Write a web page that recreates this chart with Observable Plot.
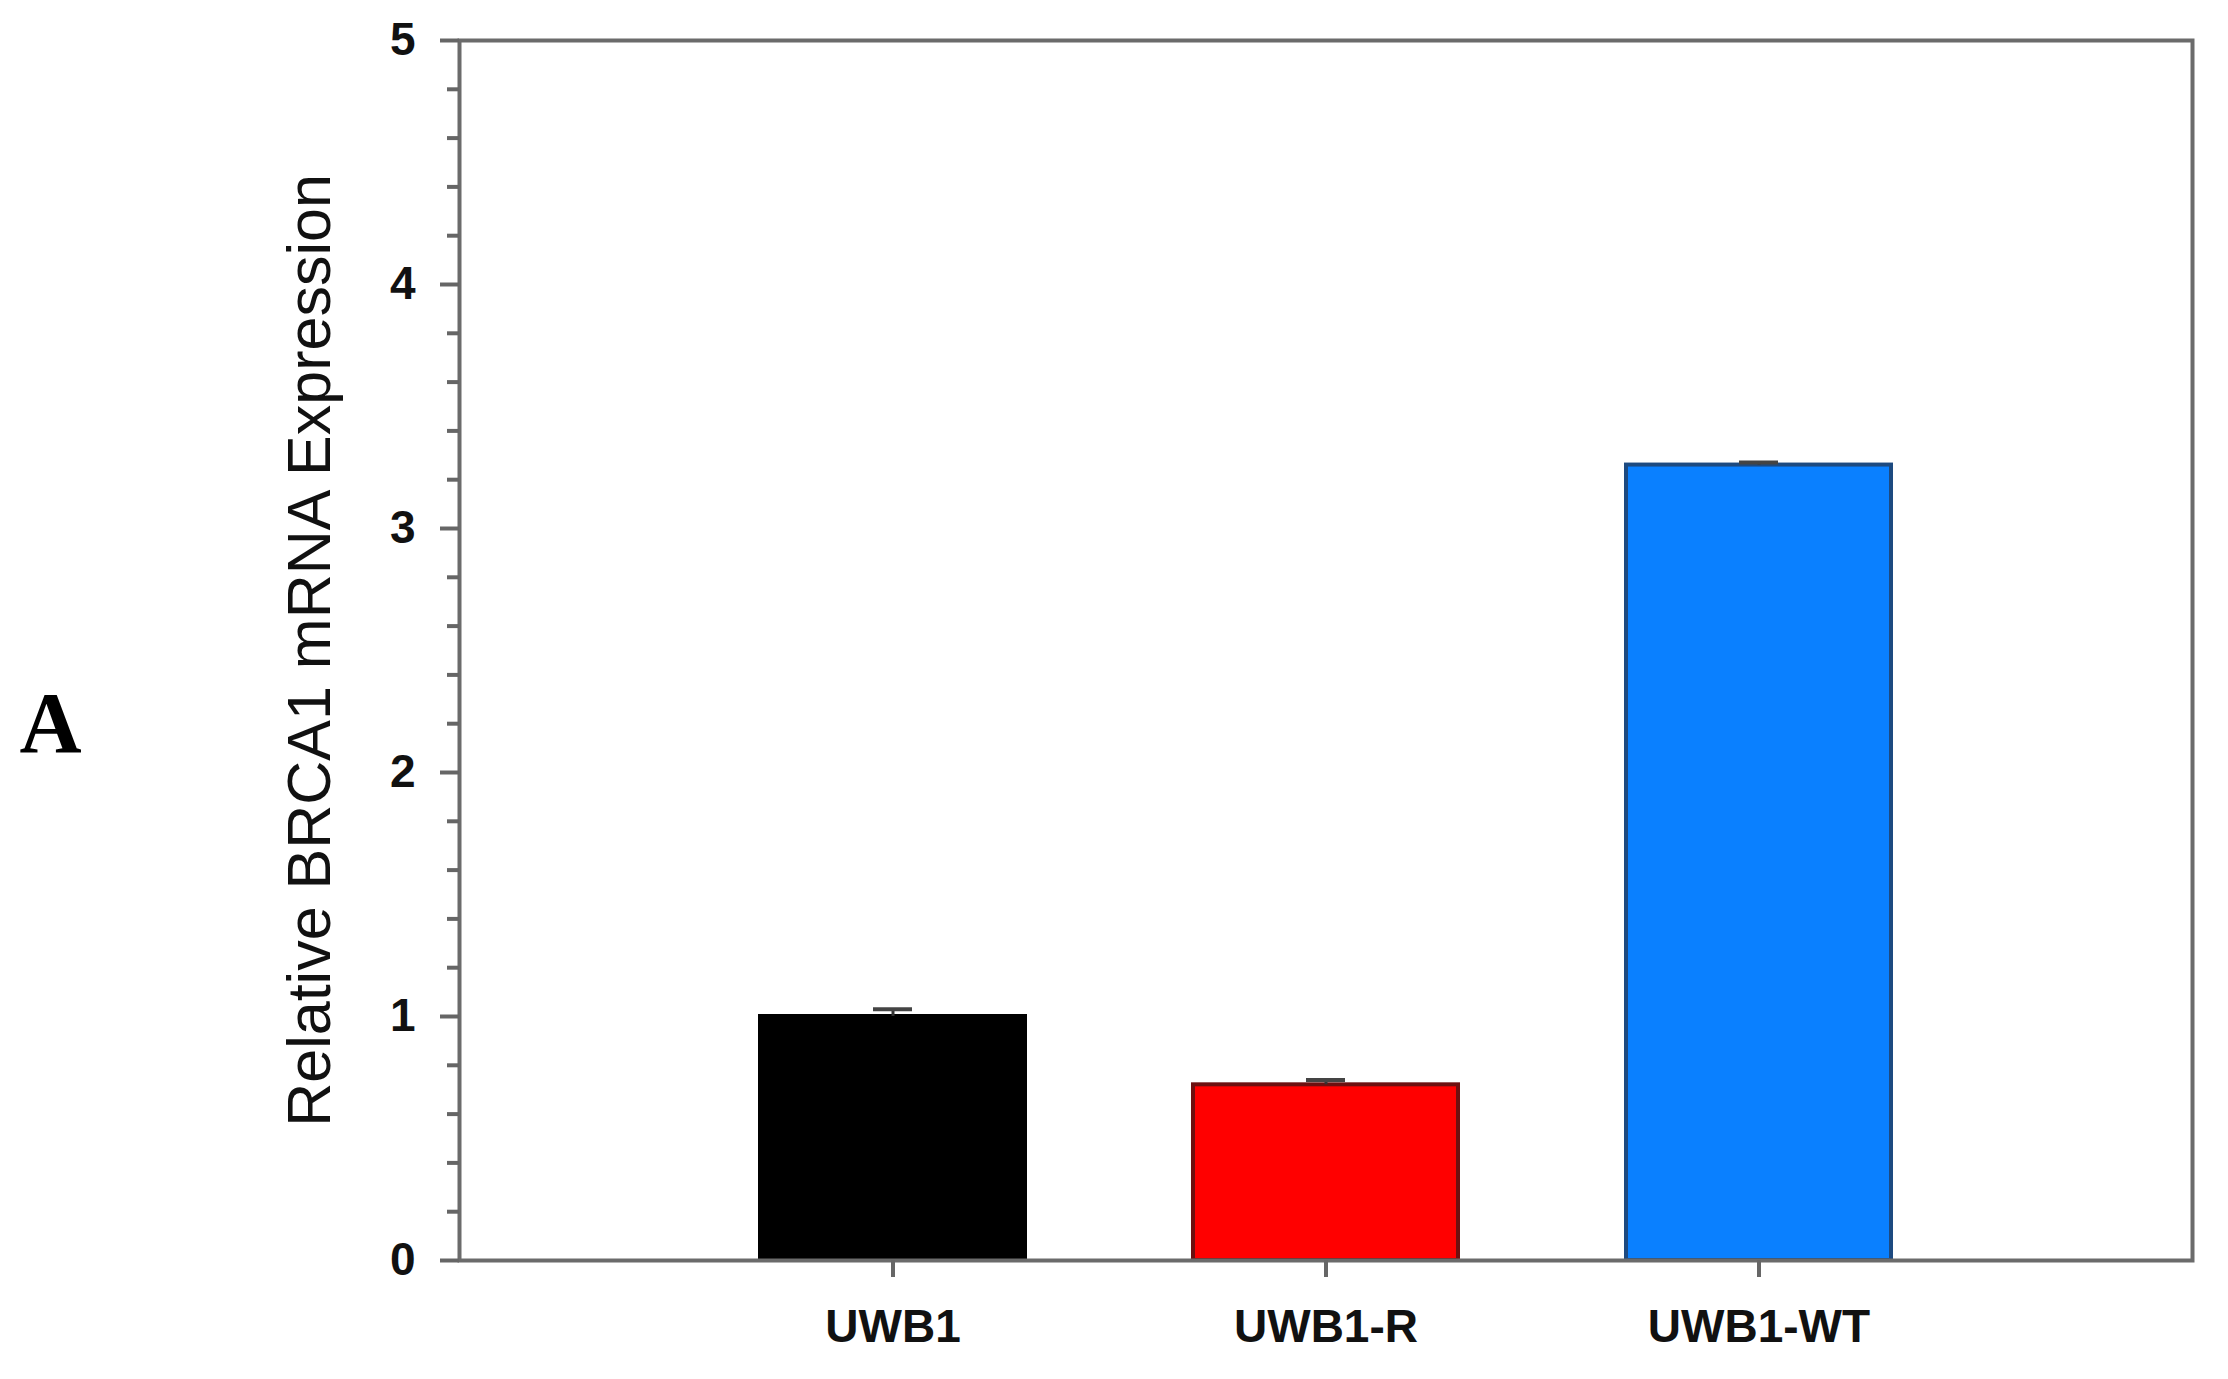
<!DOCTYPE html>
<html>
<head>
<meta charset="utf-8">
<script src="https://cdn.jsdelivr.net/npm/d3@7"></script>
<script src="https://cdn.jsdelivr.net/npm/@observablehq/plot@0.6"></script>
<style>
  html, body { margin: 0; padding: 0; background: #fff; }
  #chart { width: 2228px; height: 1379px; }
</style>
</head>
<body>
<div id="chart"></div>
<script>
// ---- data ----
const categories = ["UWB1", "UWB1-R", "UWB1-WT"];
const values = [1.0, 0.72, 3.26];
const errors = [0.03, 0.02, 0.01];
const yTicks = [0, 1, 2, 3, 4, 5];
const yMinorTicks = [0.2, 0.4, 0.6, 0.8, 1.2, 1.4, 1.6, 1.8, 2.2, 2.4, 2.6, 2.8,
                     3.2, 3.4, 3.6, 3.8, 4.2, 4.4, 4.6, 4.8];
const yLabel = "Relative BRCA1 mRNA Expression";
const panelLabel = "A";

// ---- styles (kept apart from data) ----
const fillColors = {"UWB1": "#000000", "UWB1-R": "#ff0000", "UWB1-WT": "#0a80ff"};
const strokeColors = {"UWB1": "#000000", "UWB1-R": "#6e1010", "UWB1-WT": "#1d4a80"};

const rows = categories.map((c, i) => ({cat: c, value: values[i], err: errors[i]}));

const chart = Plot.plot({
  width: 2228,
  height: 1379,
  marginLeft: 459,
  marginRight: 36,
  marginTop: 40,
  marginBottom: 119,
  style: {fontFamily: "'Liberation Sans', Arial, sans-serif", background: "#fff"},
  x: {type: "band", domain: categories, paddingInner: 0.388, paddingOuter: 0.694, label: null},
  y: {domain: [0, 5], label: null},
  color: {type: "identity"},
  marks: [
    Plot.barY(rows, {
      x: "cat", y: "value",
      fill: d => fillColors[d.cat],
      stroke: d => strokeColors[d.cat],
      strokeWidth: 4
    }),
    Plot.ruleX(rows, {x: "cat", y1: "value", y2: d => d.value + d.err, stroke: "#333", strokeWidth: 3}),
    Plot.tickY(rows, {x: "cat", y: d => d.value + d.err, stroke: "#444", strokeWidth: 4, insetLeft: 113, insetRight: 113}),
    Plot.frame({stroke: "#6b6b6b", strokeWidth: 4}),
    Plot.axisY({
      ticks: yMinorTicks, tickSize: 12, fill: "none", label: null,
      stroke: "#666", strokeWidth: 4
    }),
    Plot.axisY({
      ticks: yTicks, tickSize: 19, tickPadding: 25, label: null,
      tickFormat: d => String(d),
      stroke: "#666", strokeWidth: 4,
      fill: "#111", fontSize: 46, fontWeight: "bold"
    }),
    Plot.axisX({
      tickSize: 17, tickPadding: 32, label: null,
      stroke: "#666", strokeWidth: 4,
      fill: "#111", fontSize: 46, fontWeight: "bold"
    }),
    Plot.text([yLabel], {
      text: d => d, frameAnchor: "left", dx: -149, rotate: -90,
      fontSize: 61, fill: "#111", textAnchor: "middle", lineAnchor: "middle"
    }),
    Plot.text([panelLabel], {
      text: d => d, frameAnchor: "left", dx: -409, dy: 74,
      fontSize: 86, fontWeight: "bold", fill: "#000",
      fontFamily: "'Liberation Serif', 'Times New Roman', serif",
      textAnchor: "middle", lineAnchor: "middle"
    })
  ]
});
document.getElementById("chart").appendChild(chart);
</script>
</body>
</html>
